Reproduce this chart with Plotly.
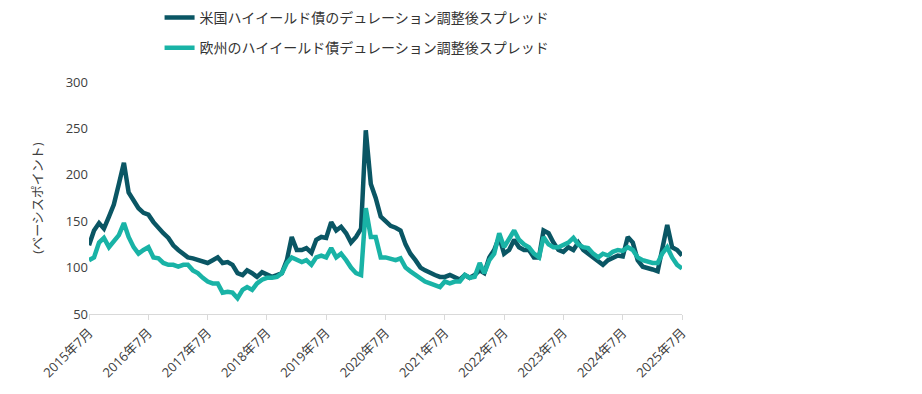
import plotly.graph_objects as go
import pandas as pd

months = pd.date_range("2015-07-01", "2025-07-01", freq="MS").strftime("%Y-%m-%d").tolist()

us_spread = [
    124, 140, 148, 142, 155, 168,   # 2015-07..12
    190, 213, 181, 173, 164, 159, 157, 149, 142, 137, 132, 124,   # 2016
    119, 114, 111, 110, 108, 106, 105, 108, 111, 105, 106, 103,   # 2017
    94, 92, 97, 94, 90, 95, 92, 90, 92, 94, 108, 133,   # 2018
    119, 119, 121, 116, 130, 133, 132, 149, 140, 144, 137, 127,   # 2019
    133, 142, 248, 190, 175, 155, 150, 145, 143, 140, 125, 115,   # 2020
    108, 100, 97, 94, 92, 90, 90, 92, 89, 87, 92, 89,   # 2021
    92, 97, 94, 111, 119, 133, 115, 119, 130, 122, 119, 119,   # 2022
    111, 111, 140, 137, 127, 119, 117, 122, 119, 127, 119, 115,   # 2023
    111, 108, 103, 108, 111, 113, 112, 133, 127, 108, 101, 100,   # 2024
    98, 96, 119, 146, 122, 119, 113,   # 2025-01..07
]

eu_spread = [
    108, 111, 127, 132, 122, 128,   # 2015-07..12
    135, 148, 133, 122, 115, 119, 122, 111, 110, 105, 103, 103,   # 2016
    101, 103, 103, 97, 94, 89, 85, 83, 83, 73, 74, 73,   # 2017
    67, 76, 79, 76, 83, 87, 89, 89, 90, 94, 105, 111,   # 2018
    108, 106, 108, 103, 111, 113, 111, 121, 111, 115, 108, 100,   # 2019
    94, 92, 164, 133, 133, 111, 111, 110, 108, 110, 100, 96,   # 2020
    92, 89, 85, 83, 81, 79, 85, 83, 85, 85, 92, 89,   # 2021
    90, 105, 94, 108, 115, 137, 122, 130, 140, 130, 125, 122,   # 2022
    115, 111, 133, 125, 122, 122, 125, 127, 132, 125, 122, 121,   # 2023
    115, 111, 115, 113, 117, 119, 118, 122, 119, 111, 108, 106,   # 2024
    105, 105, 115, 122, 111, 103, 99,   # 2025-01..07
]

series_names = [
    "米国ハイイールド債のデュレーション調整後スプレッド",
    "欧州のハイイールド債デュレーション調整後スプレッド",
]
series_colors = ["#0a5664", "#19b3a6"]

tick_dates = [f"{y}-07-01" for y in range(2015, 2026)]
tick_labels = [f"{y}年7月" for y in range(2015, 2026)]
y_ticks = [50, 100, 150, 200, 250, 300]

font_family = "Open Sans, Noto Sans CJK JP, sans-serif"

fig = go.Figure()
for i, (name, vals, col) in enumerate(zip(series_names, [us_spread, eu_spread], series_colors)):
    fig.add_trace(go.Scatter(
        x=months, y=vals, mode="lines", name=name, legendgroup=f"g{i}",
        line=dict(color=col, width=4.5),
    ))

fig.update_layout(
    width=922, height=394,
    margin=dict(l=81, r=248, t=74, b=88, autoexpand=False),
    paper_bgcolor="white", plot_bgcolor="white",
    font=dict(family=font_family, size=13, color="#404040"),
    showlegend=True,
    legend=dict(
        x=0.119, y=1.345, xanchor="left", yanchor="top",
        font=dict(size=14, color="#333333"),
        bgcolor="rgba(0,0,0,0)",
        tracegroupgap=9,
        traceorder="grouped",
    ),
    xaxis=dict(
        range=["2015-07-01", "2025-07-01"], automargin=False,
        tickmode="array", tickvals=tick_dates, ticktext=tick_labels,
        tickangle=-45, showgrid=False, zeroline=False,
        showline=True, linecolor="#d9d9d9", linewidth=1,
        ticks="outside", tickcolor="#d9d9d9", ticklen=5,
        tickfont=dict(size=13, color="#404040"),
    ),
    yaxis=dict(
        range=[50, 300], tickmode="array", tickvals=y_ticks, automargin=False,
        showgrid=False, zeroline=False, showline=False,
        tickfont=dict(size=13, color="#404040"),
        title=dict(text="(ベーシスポイント)", font=dict(size=13, color="#404040"), standoff=20),
    ),
)

fig.write_html("out.html")
